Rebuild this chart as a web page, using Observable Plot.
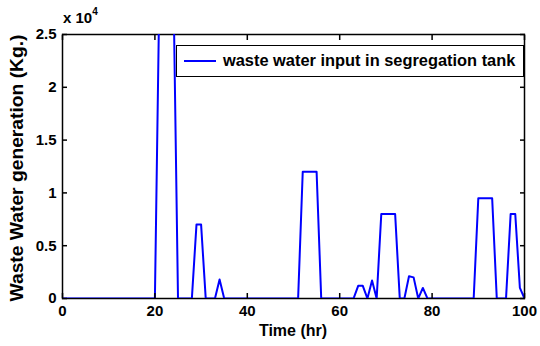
<!DOCTYPE html>
<html><head><meta charset="utf-8">
<script src="https://cdn.jsdelivr.net/npm/d3@7"></script>
<script src="https://cdn.jsdelivr.net/npm/@observablehq/plot@0.6"></script>
<style>
body{margin:0;background:#fff;}
#wrap{position:relative;width:540px;height:346px;font-family:"Liberation Sans",Arial,sans-serif;font-weight:bold;color:#000;}
.legend{position:absolute;left:176px;top:45px;width:348px;height:32px;border:1.5px solid #000;background:#fff;box-sizing:border-box;}
.legend .sw{position:absolute;left:7px;top:14px;width:32px;height:0;border-top:2px solid #0000ff;}
.legend .tx{position:absolute;left:46px;top:5px;font-size:16.4px;white-space:nowrap;}
.ylab{position:absolute;left:17px;top:168px;transform:translate(-50%,-50%) rotate(-90deg) scaleX(1.1);font-size:17.5px;white-space:nowrap;}
.xlab{position:absolute;left:293px;top:331px;transform:translate(-50%,-50%);font-size:16px;white-space:nowrap;}
.exp{position:absolute;left:63px;top:8px;font-size:15px;white-space:nowrap;}
.exp sup{font-size:10px;position:relative;top:-2px;}
</style></head>
<body><div id="wrap"></div>
<script>
const seriesName = "waste water input in segregation tank";
const xLabel = "Time (hr)";
const yLabel = "Waste Water generation (Kg.)";
const yExponent = "x 10";
const time =  [0, 20, 21, 24, 25, 28, 29, 30, 31, 33, 34, 35, 51, 52, 55, 56, 63, 64, 65, 66, 67, 68, 69, 72, 73, 74, 75, 76, 77, 78, 79, 89, 90, 93, 94, 96, 97, 98, 99, 100];
const waste = [0, 0, 30000, 30000, 0, 0, 7000, 7000, 0, 0, 1800, 0, 0, 12000, 12000, 0, 0, 1200, 1200, 0, 1700, 0, 8000, 8000, 0, 0, 2100, 2000, 0, 1000, 0, 0, 9500, 9500, 0, 0, 8000, 8000, 1000, 0];
const xTicks = [0, 20, 40, 60, 80, 100];
const yTicks = [0, 5000, 10000, 15000, 20000, 25000];

const data = time.map((t, i) => ({t, v: waste[i]}));
const yFmt = d => String(d / 1e4);

const chart = Plot.plot({
  width: 540, height: 346,
  marginLeft: 62, marginRight: 16, marginTop: 34, marginBottom: 48,
  style: {fontFamily: "Liberation Sans, Arial, sans-serif", fontSize: "15px", fontWeight: "bold", color: "#000", background: "#fff"},
  x: {domain: [0, 100]},
  y: {domain: [0, 25000]},
  marks: [
    Plot.frame({stroke: "#000", strokeWidth: 1.5}),
    Plot.line(data, {x: "t", y: "v", stroke: "#0000ff", strokeWidth: 2, clip: true}),
    Plot.axisX({ticks: xTicks, tickSize: -5, tickPadding: 12, label: null, strokeWidth: 1.5, fontSize: 15, fontWeight: "bold"}),
    Plot.axisX({ticks: xTicks, anchor: "top", tickSize: -5, text: null, label: null, strokeWidth: 1.5}),
    Plot.axisY({ticks: yTicks, tickFormat: yFmt, tickSize: -5, tickPadding: 11, label: null, strokeWidth: 1.5, fontSize: 15, fontWeight: "bold"}),
    Plot.axisY({ticks: yTicks, anchor: "right", tickSize: -5, text: null, label: null, strokeWidth: 1.5})
  ]
});
const wrap = document.getElementById("wrap");
wrap.appendChild(chart);

const add = (cls, html) => { const d = document.createElement("div"); d.className = cls; d.innerHTML = html; wrap.appendChild(d); return d; };
add("exp", yExponent + "<sup>4</sup>");
add("ylab", yLabel);
add("xlab", xLabel);
const lg = add("legend", "");
const sw = document.createElement("div"); sw.className = "sw"; lg.appendChild(sw);
const tx = document.createElement("div"); tx.className = "tx"; tx.textContent = seriesName; lg.appendChild(tx);
</script>
</body></html>
